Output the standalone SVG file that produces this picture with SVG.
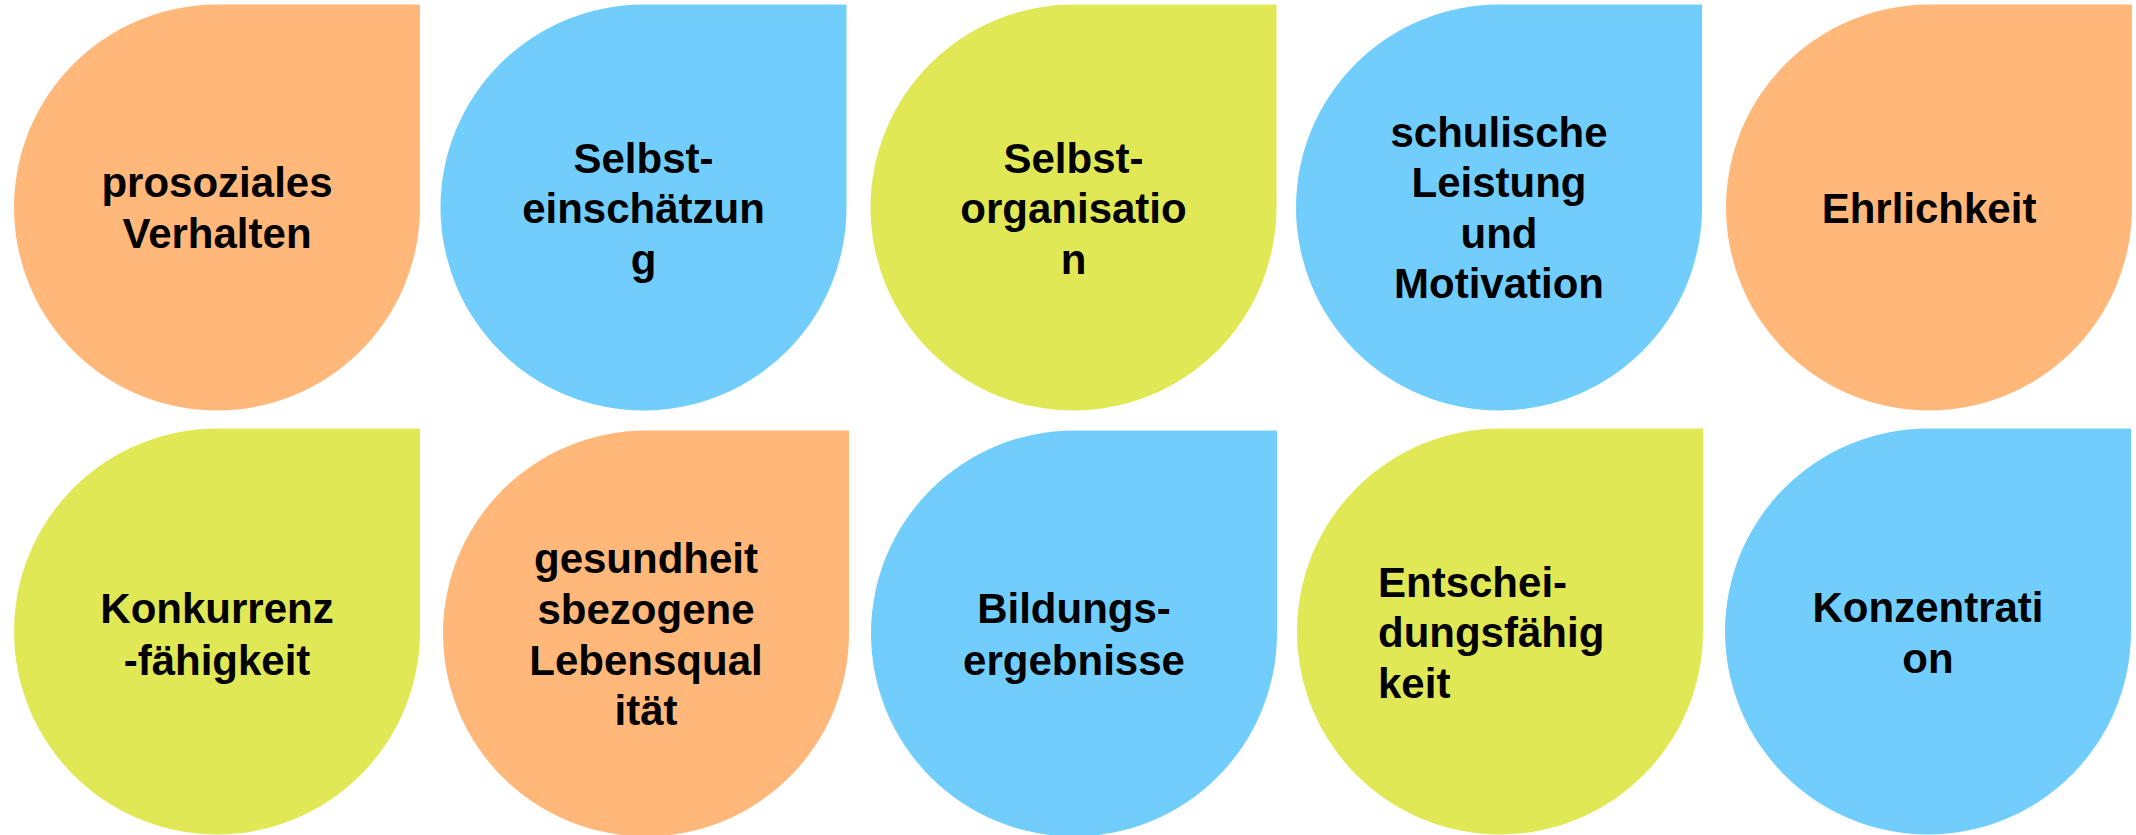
<svg xmlns="http://www.w3.org/2000/svg" xmlns:xlink="http://www.w3.org/1999/xlink" width="2136" height="835" viewBox="0 0 2136 835">
  <style>
    .orange { fill: #FFB879; }
    .blue { fill: #70CDFC; }
    .green { fill: #E0E955; }
    .lbl { font-family: "Liberation Sans", Arial, sans-serif; font-weight: bold; font-size: 42px; fill: #000000; text-anchor: middle; }
    .lbl-left { text-anchor: start; }
  </style>
  <defs>
    <path id="drop" d="M203,0 H406 V203 A203,203 0 0 1 203,406 A203,203 0 0 1 0,203 A203,203 0 0 1 203,0 Z"/>
  </defs>
  <rect width="2136" height="835" fill="#FFFFFF"/>
  <g id="connectors"/>

  <g id="n-prosoziales">
    <use xlink:href="#drop" href="#drop" x="14" y="4.5" class="orange"/>
    <text class="lbl" x="217" y="197">prosoziales</text>
    <text class="lbl" x="217" y="248">Verhalten</text>
  </g>

  <g id="n-selbsteinschaetzung">
    <use xlink:href="#drop" href="#drop" x="440.5" y="4.5" class="blue"/>
    <text class="lbl" x="643.5" y="172.5">Selbst-</text>
    <text class="lbl" x="643.5" y="223">einschätzun</text>
    <text class="lbl" x="643.5" y="273.5">g</text>
  </g>

  <g id="n-selbstorganisation">
    <use xlink:href="#drop" href="#drop" x="870.5" y="4.5" class="green"/>
    <text class="lbl" x="1073.5" y="172.5">Selbst-</text>
    <text class="lbl" x="1073.5" y="223">organisatio</text>
    <text class="lbl" x="1073.5" y="273.5">n</text>
  </g>

  <g id="n-schulische">
    <use xlink:href="#drop" href="#drop" x="1296" y="4.5" class="blue"/>
    <text class="lbl" x="1499" y="146.7">schulische</text>
    <text class="lbl" x="1499" y="197.2">Leistung</text>
    <text class="lbl" x="1499" y="247.7">und</text>
    <text class="lbl" x="1499" y="298.2">Motivation</text>
  </g>

  <g id="n-ehrlichkeit">
    <use xlink:href="#drop" href="#drop" x="1726" y="4.5" class="orange"/>
    <text class="lbl" x="1929" y="223">Ehrlichkeit</text>
  </g>

  <g id="n-konkurrenz">
    <use xlink:href="#drop" href="#drop" x="14" y="428.5" class="green"/>
    <text class="lbl" x="217" y="623">Konkurrenz</text>
    <text class="lbl" x="217" y="674.5">-fähigkeit</text>
  </g>

  <g id="n-gesundheit">
    <use xlink:href="#drop" href="#drop" x="443" y="430.5" class="orange"/>
    <text class="lbl" x="646" y="573">gesundheit</text>
    <text class="lbl" x="646" y="623.8">sbezogene</text>
    <text class="lbl" x="646" y="674.6">Lebensqual</text>
    <text class="lbl" x="646" y="725.4">ität</text>
  </g>

  <g id="n-bildung">
    <use xlink:href="#drop" href="#drop" x="871" y="430.5" class="blue"/>
    <text class="lbl" x="1074" y="623.3">Bildungs-</text>
    <text class="lbl" x="1074" y="675">ergebnisse</text>
  </g>

  <g id="n-entscheidung">
    <use xlink:href="#drop" href="#drop" x="1297" y="428.5" class="green"/>
    <text class="lbl lbl-left" x="1378" y="596.7">Entschei-</text>
    <text class="lbl lbl-left" x="1378" y="647.2">dungsfähig</text>
    <text class="lbl lbl-left" x="1378" y="697.7">keit</text>
  </g>

  <g id="n-konzentration">
    <use xlink:href="#drop" href="#drop" x="1725" y="428.5" class="blue"/>
    <text class="lbl" x="1928" y="622.3">Konzentrati</text>
    <text class="lbl" x="1928" y="673.3">on</text>
  </g>
</svg>
